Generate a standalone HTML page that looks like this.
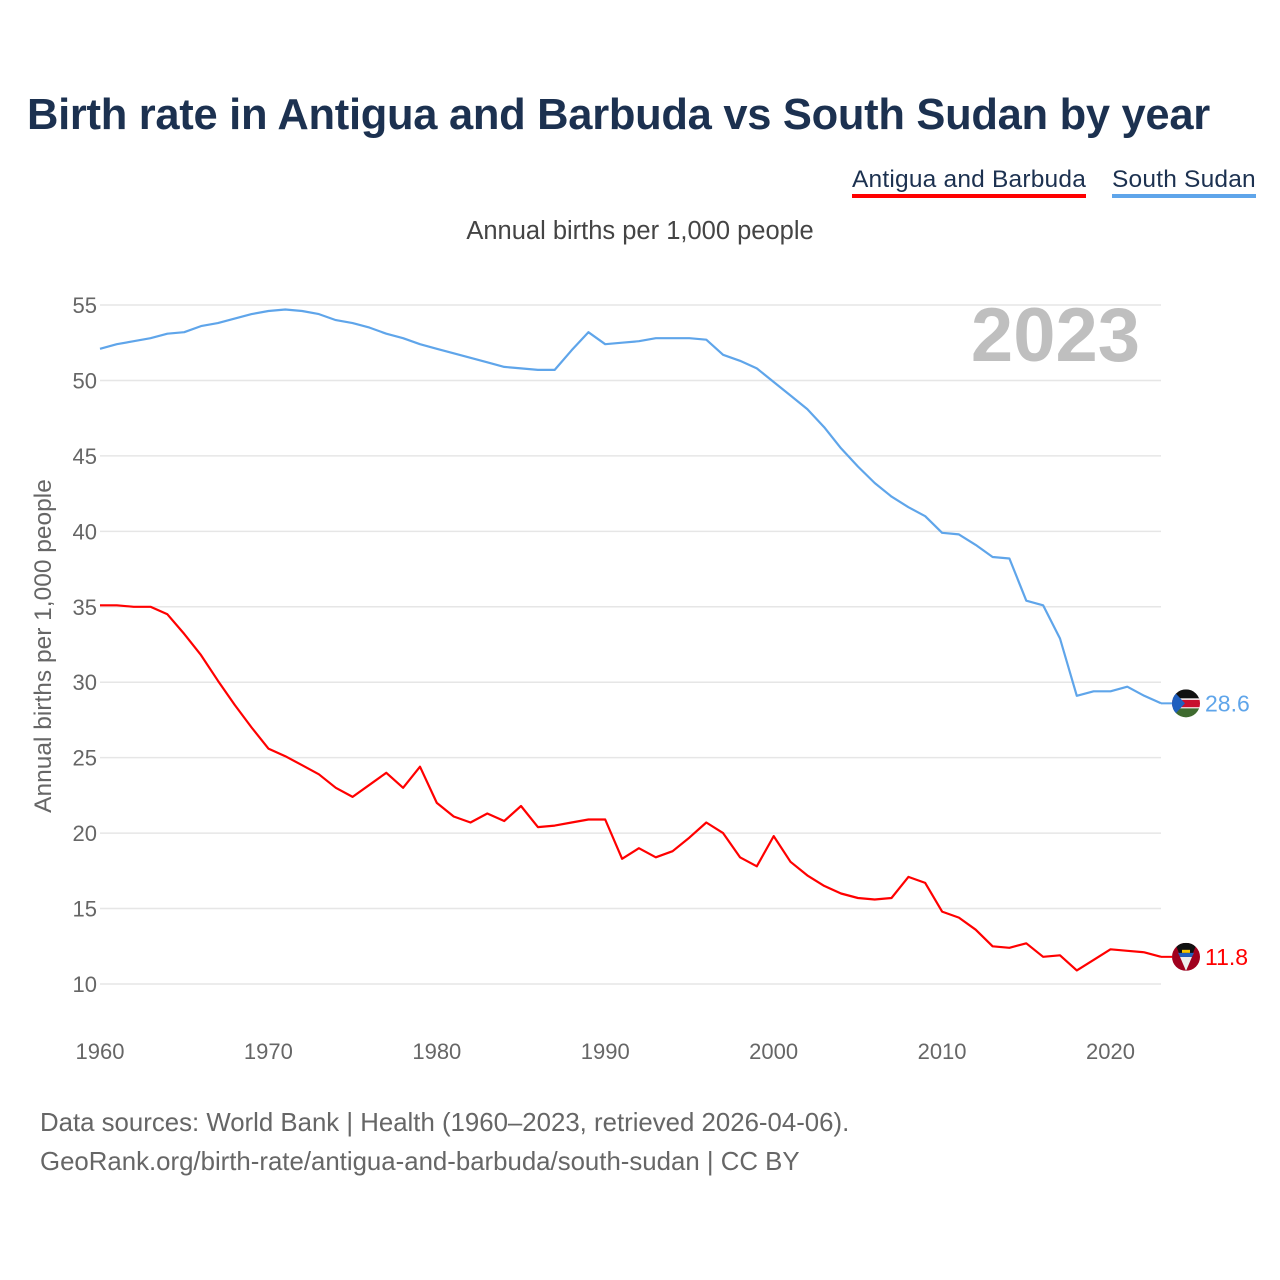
<!DOCTYPE html>
<html><head><meta charset="utf-8">
<style>
body{margin:0;background:#fff;font-family:"Liberation Sans",sans-serif;}
#wrap{position:relative;width:1280px;height:1280px;overflow:hidden;}
.t{position:absolute;white-space:nowrap;}
</style></head>
<body>
<div id="wrap">
<div class="t" style="left:27px;top:91px;font-size:43.5px;font-weight:bold;color:#1c3150;letter-spacing:-0.3px;">Birth rate in Antigua and Barbuda vs South Sudan by year</div>
<div class="t" style="left:852px;top:166px;font-size:24.5px;letter-spacing:0.2px;color:#1c3150;border-bottom:4px solid #ff0000;">Antigua and Barbuda</div>
<div class="t" style="left:1112px;top:166px;font-size:24.5px;letter-spacing:0.2px;color:#1c3150;border-bottom:4px solid #5fa5ea;">South Sudan</div>
<div class="t" style="left:0;width:1280px;text-align:center;top:217px;font-size:25.5px;color:#444;">Annual births per 1,000 people</div>
<div class="t" style="left:40px;top:1104px;font-size:25.8px;color:#666;line-height:39px;">Data sources: World Bank | Health (1960–2023, retrieved 2026-04-06).<br>GeoRank.org/birth-rate/antigua-and-barbuda/south-sudan | CC BY</div>
<svg id="chart" width="1280" height="1280" style="position:absolute;left:0;top:0"></svg>
</div>
<script>
const years=[];for(let y=1960;y<=2023;y++)years.push(y);
const antigua=[35.1,35.1,35.0,35.0,34.5,33.2,31.8,30.1,28.5,27.0,25.6,25.1,24.5,23.9,23.0,22.4,23.2,24.0,23.0,24.4,22.0,21.1,20.7,21.3,20.8,21.8,20.4,20.5,20.7,20.9,20.9,18.3,19.0,18.4,18.8,19.7,20.7,20.0,18.4,17.8,19.8,18.1,17.2,16.5,16.0,15.7,15.6,15.7,17.1,16.7,14.8,14.4,13.6,12.5,12.4,12.7,11.8,11.9,10.9,11.6,12.3,12.2,12.1,11.8];
const southSudan=[52.1,52.4,52.6,52.8,53.1,53.2,53.6,53.8,54.1,54.4,54.6,54.7,54.6,54.4,54.0,53.8,53.5,53.1,52.8,52.4,52.1,51.8,51.5,51.2,50.9,50.8,50.7,50.7,52.0,53.2,52.4,52.5,52.6,52.8,52.8,52.8,52.7,51.7,51.3,50.8,49.9,49.0,48.1,46.9,45.5,44.3,43.2,42.3,41.6,41.0,39.9,39.8,39.1,38.3,38.2,35.4,35.1,32.9,29.1,29.4,29.4,29.7,29.1,28.6];
const yTicks=[10,15,20,25,30,35,40,45,50,55];
const xTicks=[1960,1970,1980,1990,2000,2010,2020];
const NS="http://www.w3.org/2000/svg";
const svg=document.getElementById('chart');
const X=y=>100+(y-1960)*(1161-100)/63;
const Y=v=>984-(v-10)*(984-305)/45;
function el(t,a,p){const e=document.createElementNS(NS,t);for(const k in a)e.setAttribute(k,a[k]);(p||svg).appendChild(e);return e;}
yTicks.forEach(v=>{
 const g=el('line',{x1:100,x2:1161,y1:Y(v),y2:Y(v),stroke:'#e6e6e6','stroke-width':1.5});
 
 
 const t=el('text',{x:97,y:Y(v)+8,'text-anchor':'end','font-size':22,fill:'#666','font-family':'Liberation Sans, sans-serif'});
 t.textContent=v;
 
 
});
xTicks.forEach(v=>{
 const t=el('text',{x:X(v),y:1059,'text-anchor':'middle','font-size':22,fill:'#666','font-family':'Liberation Sans, sans-serif'});
 t.textContent=v;
 
 
});
const yt=el('text',{x:0,y:0,transform:'translate(51,646) rotate(-90)','text-anchor':'middle','font-size':24.5,fill:'#666','font-family':'Liberation Sans, sans-serif'});
yt.textContent='Annual births per 1,000 people';


const yr=el('text',{x:1140,y:361,'text-anchor':'end','font-size':76,'font-weight':'bold',fill:'#bfbfbf','font-family':'Liberation Sans, sans-serif'});
yr.textContent='2023';


function line(data,color,name){
 const d=data.map((v,i)=>(i?'L':'M')+X(years[i]).toFixed(1)+','+Y(v).toFixed(1)).join('');
 const p=el('path',{d:d,fill:'none',stroke:color,'stroke-width':2.2,'stroke-linejoin':'round'});
 
 
}
line(southSudan,'#5fa5ea','south-sudan-line');
line(antigua,'#ff0000','antigua-line');
function endLabel(data,color,name,flag){
 const v=data[data.length-1];const cy=Y(v);
 const c=el('line',{x1:1161,x2:1172,y1:cy,y2:cy,stroke:color,'stroke-width':2});
 
 
 const g=el('g',{});
 
 
 flag(g,1186,cy);
 const t=el('text',{x:1205,y:cy+8,'font-size':23,fill:color,'font-family':'Liberation Sans, sans-serif'});
 t.textContent=v.toFixed(1);
 
 
}
endLabel(southSudan,'#5fa5ea','south-sudan',(g,cx,cy)=>{
 const id='cs';const cp=el('clipPath',{id:id},g);el('circle',{cx:cx,cy:cy,r:14},cp);
 const gg=el('g',{'clip-path':'url(#'+id+')'},g);
 el('rect',{x:cx-14,y:cy-14,width:28,height:10,fill:'#111'},gg);
 el('rect',{x:cx-14,y:cy-4,width:28,height:8,fill:'#c8102e'},gg);
 el('rect',{x:cx-14,y:cy-5,width:28,height:1.5,fill:'#fff'},gg);
 el('rect',{x:cx-14,y:cy+4,width:28,height:1.5,fill:'#fff'},gg);
 el('rect',{x:cx-14,y:cy+5,width:28,height:10,fill:'#3f6b2f'},gg);
 el('polygon',{points:`${cx-14},${cy-14} ${cx-1},${cy} ${cx-14},${cy+14}`,fill:'#1f5fbf'},gg);
});
endLabel(antigua,'#ff0000','antigua',(g,cx,cy)=>{
 const id='ca';const cp=el('clipPath',{id:id},g);el('circle',{cx:cx,cy:cy,r:14},cp);
 const gg=el('g',{'clip-path':'url(#'+id+')'},g);
 el('rect',{x:cx-14,y:cy-14,width:28,height:28,fill:'#a0001e'},gg);
 el('polygon',{points:`${cx-11},${cy-14} ${cx+11},${cy-14} ${cx},${cy+14}`,fill:'#111'},gg);
 el('polygon',{points:`${cx-6},${cy} ${cx+6},${cy} ${cx},${cy+14}`,fill:'#eee'},gg);
 el('polygon',{points:`${cx-8},${cy-4} ${cx+8},${cy-4} ${cx+6},${cy} ${cx-6},${cy}`,fill:'#1f5fbf'},gg);
 el('rect',{x:cx-4,y:cy-7,width:8,height:3,fill:'#f5c400'},gg);
});
</script>
</body></html>
